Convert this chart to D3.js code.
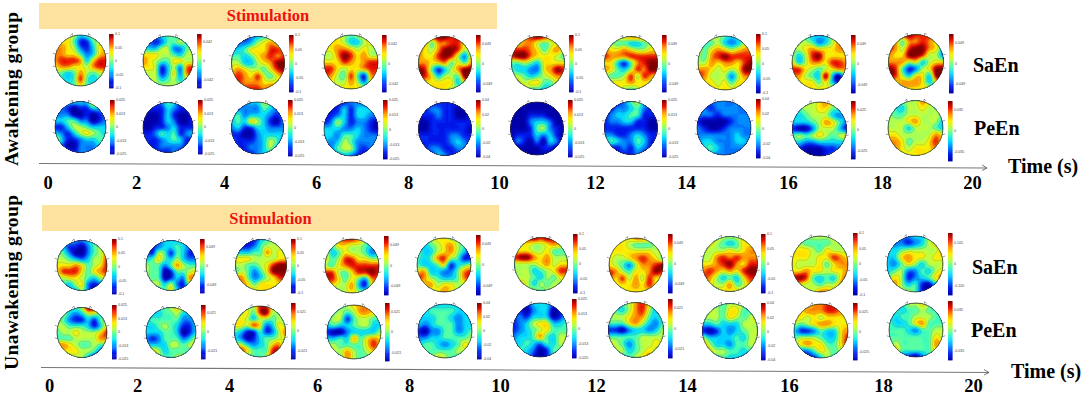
<!DOCTYPE html>
<html>
<head>
<meta charset="utf-8">
<script src="https://cdn.jsdelivr.net/npm/d3@7"></script>
<style>
	html, body { margin: 0; padding: 0; background: #fff; }
	svg { display: block; }
	text { font-family: "Liberation Serif", serif; font-weight: bold; fill: #000; }
	.cb text { font-family: "Liberation Sans", sans-serif; font-weight: normal; fill: #444; }
</style>
</head>
<body>
<svg width="1084" height="396"></svg>
<script>
// topographic maps: 9x9 grid, 0 = deep blue ... 9 = dark red
var awakeSaEn = [
	[[6,6,6,5,3,4,5,5,5],[6,6,6,4,1,1,4,5,5],[7,7,6,5,2,1,3,6,6],[7,7,6,6,4,2,3,6,7],[7,8,8,8,7,3,6,8,8],[6,7,7,6,6,5,7,8,8],[5,4,3,4,7,5,4,5,6],[5,4,3,4,8,4,3,4,5],[5,5,4,4,6,4,4,4,5]],
	[[4,3,2,3,4,4,4,4,4],[3,2,1,2,4,4,5,4,4],[4,3,3,5,5,2,2,4,5],[6,6,6,5,5,4,3,5,5],[7,6,5,4,4,6,6,5,5],[6,6,5,1,3,5,2,7,8],[5,5,5,1,3,6,2,7,8],[5,5,5,3,4,5,3,5,6],[5,5,5,5,5,5,5,5,5]],
	[[2,2,1,2,3,4,5,5,5],[2,2,2,3,5,6,7,6,5],[3,3,4,6,6,6,8,8,7],[4,4,3,4,6,7,8,7,8],[5,5,3,3,5,6,7,9,9],[6,7,6,5,5,4,6,8,9],[7,8,7,6,8,5,4,6,7],[8,8,7,7,7,6,6,6,6],[8,8,8,8,8,7,8,8,7]],
	[[7,7,6,5,4,5,6,7,7],[6,6,6,5,3,3,5,6,6],[6,6,7,7,6,5,6,5,5],[5,5,7,9,8,6,7,5,5],[6,6,6,8,7,6,7,8,8],[8,8,6,5,6,6,7,8,8],[8,7,5,4,8,4,1,7,7],[6,6,5,5,7,5,2,6,7],[6,6,6,6,6,6,6,7,7]],
	[[8,8,8,9,9,8,8,7,7],[7,7,4,7,7,8,8,6,6],[7,6,5,7,9,9,8,5,6],[7,6,6,8,9,8,5,2,6],[7,7,6,6,7,4,6,4,7],[9,8,4,1,3,5,7,9,9],[9,8,6,3,5,5,4,9,9],[7,6,6,6,6,6,3,6,7],[6,6,6,6,6,5,5,6,6]],
	[[7,7,7,8,9,8,7,7,7],[7,6,7,7,5,4,5,6,6],[8,8,8,7,6,4,6,7,5],[8,9,9,7,6,6,6,5,4],[4,4,5,4,3,6,6,6,6],[4,3,3,2,2,6,7,9,8],[5,5,4,3,4,5,6,7,7],[6,6,5,6,6,4,4,6,6],[6,6,6,4,4,3,4,6,6]],
	[[6,6,6,6,7,7,7,6,6],[7,5,4,4,3,3,4,5,6],[7,6,6,7,6,5,5,6,6],[8,7,7,7,8,8,8,8,8],[6,6,3,1,4,7,8,9,9],[7,6,4,3,5,8,7,9,9],[5,4,4,5,8,5,8,7,6],[6,6,6,6,7,6,6,6,6],[7,6,6,5,4,5,7,7,7]],
	[[6,6,6,5,4,3,4,5,6],[6,4,4,5,3,2,3,5,6],[6,4,6,7,6,5,6,7,7],[5,4,7,8,9,8,8,8,8],[5,5,7,6,7,7,6,8,9],[7,7,6,5,6,5,6,9,9],[8,7,5,5,5,2,5,7,7],[6,6,6,5,6,4,6,6,6],[6,6,6,6,6,6,6,6,6]],
	[[5,5,4,3,3,3,5,6,6],[5,5,5,4,2,3,5,7,7],[5,5,6,7,6,6,6,7,7],[5,3,5,8,9,6,6,6,6],[6,3,5,7,7,6,8,8,7],[8,8,6,5,4,5,6,7,7],[7,7,5,4,3,9,3,0,5],[6,6,6,6,4,6,3,1,5],[6,6,6,6,6,6,6,6,6]],
	[[8,8,8,9,8,8,8,7,7],[7,7,4,7,7,8,7,6,6],[8,7,5,8,9,9,7,6,3],[7,6,6,9,9,8,5,5,2],[7,7,7,5,6,3,5,6,6],[9,8,4,1,2,5,6,9,9],[9,8,5,3,6,6,3,9,9],[7,6,7,7,7,6,3,6,7],[6,6,6,6,6,6,6,6,6]]
];
var awakePeEn = [
	[[3,3,3,3,3,3,7,6,4],[2,2,1,0,1,1,3,3,2],[2,2,2,0,0,1,0,1,2],[3,3,4,4,2,2,0,1,2],[1,1,3,5,5,4,3,3,3],[3,2,1,3,5,6,5,4,3],[6,3,1,1,2,3,3,4,4],[3,2,0,0,2,2,2,3,3],[2,2,2,1,2,2,2,2,2]],
	[[1,1,1,2,4,3,1,1,1],[1,1,1,1,3,2,1,1,1],[1,0,0,1,3,1,0,0,1],[0,0,0,1,3,2,0,0,1],[0,0,1,1,2,3,1,1,1],[1,1,2,4,3,4,1,2,3],[1,1,1,2,3,4,3,1,1],[1,1,1,2,2,2,2,1,1],[1,1,1,1,1,2,1,1,1]],
	[[2,2,2,3,3,5,4,2,2],[1,2,2,2,2,4,3,2,2],[3,4,2,3,3,3,2,1,2],[3,4,3,6,5,3,1,0,2],[2,3,1,1,3,3,2,2,2],[1,1,0,0,2,3,3,3,3],[2,1,1,1,2,3,5,4,2],[1,1,1,2,2,3,5,3,2],[1,1,1,1,2,3,3,2,1]],
	[[1,1,1,1,2,2,2,2,2],[1,1,1,3,1,3,3,3,2],[1,1,2,3,1,3,3,2,2],[1,2,5,3,1,2,2,1,0],[3,3,3,2,2,3,2,1,0],[3,3,2,4,4,3,2,2,2],[3,2,3,5,4,2,2,2,2],[2,2,4,5,5,2,1,2,2],[1,2,2,3,2,1,1,1,1]],
	[[1,1,1,1,1,1,1,1,1],[1,1,2,2,1,1,0,0,1],[1,1,1,2,1,1,0,0,1],[0,0,1,1,1,1,1,1,1],[0,0,1,1,1,1,1,1,0],[1,1,1,1,1,2,2,1,1],[1,1,1,1,1,2,3,2,1],[1,1,2,2,1,1,2,2,1],[1,1,1,3,2,1,1,1,1]],
	[[0,0,0,0,0,0,0,0,0],[0,0,0,0,0,0,0,0,0],[0,0,0,1,1,1,0,0,0],[0,0,0,2,3,3,2,0,0],[0,0,0,1,4,5,2,1,0],[0,1,1,1,3,2,3,1,0],[0,2,1,0,2,0,3,2,0],[0,0,0,0,0,1,1,0,0],[0,0,0,0,0,0,0,0,0]],
	[[1,1,1,2,4,5,3,1,1],[1,1,2,2,3,4,2,1,1],[1,2,3,3,4,4,1,1,1],[1,2,2,3,3,1,1,0,0],[1,1,1,1,1,1,1,0,0],[2,2,1,1,2,3,2,1,1],[3,4,3,2,2,4,3,1,1],[1,1,1,2,1,3,2,1,1],[1,1,1,1,1,2,1,1,1]],
	[[2,1,2,2,2,2,2,2,2],[1,2,1,2,2,2,2,2,2],[2,2,2,1,2,2,2,2,2],[1,0,0,0,0,1,2,2,2],[2,1,0,0,1,2,2,2,2],[2,2,2,2,2,2,3,2,2],[2,3,3,2,2,2,3,3,2],[2,3,4,3,2,2,2,2,2],[2,2,3,2,2,2,2,2,2]],
	[[4,4,5,5,6,7,6,5,5],[3,4,5,5,6,6,4,4,4],[3,3,4,5,5,5,3,2,3],[3,3,3,4,5,7,6,4,2],[1,0,0,2,5,5,5,3,1],[4,5,4,5,6,5,4,5,6],[3,3,2,2,3,3,3,3,3],[1,1,0,0,0,1,1,2,3],[1,1,0,0,0,1,2,2,2]],
	[[5,5,5,5,5,7,6,5,5],[5,4,3,5,5,6,5,5,5],[5,4,4,5,5,5,5,5,5],[5,5,5,6,7,5,5,5,3],[5,5,5,3,5,5,5,4,3],[6,6,5,5,5,5,5,7,6],[7,7,6,4,5,5,6,8,6],[7,7,6,5,6,6,6,7,5],[6,6,6,6,6,6,6,6,6]]
];
var unawakeSaEn = [
	[[3,3,3,2,2,3,4,4,4],[4,3,1,1,0,2,4,5,6],[5,4,2,0,0,2,4,5,7],[5,5,4,3,2,3,5,5,8],[6,6,6,7,6,4,5,6,8],[6,8,8,8,6,4,6,7,8],[5,5,6,6,5,4,3,5,6],[4,4,3,5,6,2,1,2,4],[3,3,3,3,5,2,0,1,3]],
	[[3,2,2,3,3,3,3,2,2],[1,1,2,3,3,4,3,2,1],[2,1,5,4,1,4,3,1,1],[3,4,6,4,3,5,3,2,2],[5,4,4,2,4,7,5,4,4],[5,4,4,0,1,4,4,5,6],[5,4,4,0,1,3,2,7,7],[5,5,5,3,5,2,1,5,5],[4,4,4,4,6,3,1,3,4]],
	[[2,1,1,1,3,4,5,5,5],[2,1,1,2,4,5,5,5,5],[3,3,3,4,4,7,5,6,5],[6,6,6,5,5,5,5,6,6],[5,5,4,4,5,6,8,9,9],[4,5,4,2,4,6,9,9,9],[7,7,4,2,3,5,6,8,8],[6,7,6,4,6,6,6,6,6],[6,6,6,6,6,6,6,6,6]],
	[[5,5,7,8,8,7,5,5,5],[5,4,6,6,5,5,4,3,3],[6,3,4,6,5,5,4,2,3],[6,4,5,8,8,6,6,5,5],[5,4,6,7,8,8,8,8,8],[8,8,5,4,6,8,8,9,8],[8,8,6,4,6,4,2,7,7],[6,6,5,5,7,3,1,6,6],[6,6,5,5,6,5,5,6,6]],
	[[5,5,5,6,6,5,5,5,5],[5,3,4,5,6,7,5,4,4],[5,3,3,5,6,7,5,3,1],[4,3,4,7,8,5,4,1,1],[4,3,3,4,6,1,3,4,5],[6,7,3,3,2,2,4,7,8],[8,7,5,4,3,3,4,7,8],[5,6,7,5,6,6,5,5,6],[5,5,5,6,7,6,5,5,5]],
	[[7,7,8,9,8,9,8,7,7],[6,6,6,5,5,6,7,6,5],[6,6,6,5,5,6,4,4,4],[8,9,9,7,6,7,5,5,5],[5,5,5,5,6,7,5,6,6],[5,5,5,3,4,5,6,8,8],[5,5,5,4,3,5,4,6,6],[5,6,5,3,5,4,5,5,6],[5,5,5,5,4,5,5,5,5]],
	[[6,6,6,6,7,7,6,6,6],[6,6,6,5,4,4,4,5,6],[6,6,6,6,6,6,6,5,6],[6,5,5,6,7,8,7,6,4],[6,5,4,2,5,7,7,8,9],[8,7,5,4,6,6,7,9,8],[8,6,8,5,7,5,8,6,6],[6,6,6,6,7,6,8,6,6],[6,6,6,6,6,6,6,6,6]],
	[[6,6,6,5,5,5,6,6,6],[6,6,5,4,3,4,6,6,7],[6,5,5,5,6,5,6,7,7],[5,5,7,8,7,8,7,7,7],[6,6,7,8,9,7,6,8,8],[7,8,7,6,7,6,8,9,9],[8,7,5,3,4,3,6,8,8],[6,6,5,5,7,4,5,7,7],[5,5,6,6,6,6,6,7,7]],
	[[5,5,5,5,5,5,5,5,5],[5,5,4,4,4,4,5,5,5],[6,6,6,5,4,6,5,5,5],[6,6,6,5,6,6,8,7,6],[6,5,5,5,6,4,6,7,7],[6,6,7,6,6,5,6,6,7],[8,9,8,4,3,4,3,6,8],[6,6,5,5,4,5,5,7,8],[6,6,6,5,7,7,6,6,6]],
	[[3,2,2,2,3,3,5,5,5],[3,2,2,1,2,3,5,6,6],[4,3,4,5,5,5,5,5,7],[3,3,6,7,6,6,5,6,6],[3,2,4,6,5,3,5,5,5],[3,4,5,2,2,4,3,5,6],[4,6,5,1,2,3,4,6,7],[5,7,5,3,4,1,0,3,5],[5,5,5,5,4,1,0,2,4]]
];
var unawakePeEn = [
	[[5,5,4,4,5,9,8,5,5],[5,5,3,2,3,5,5,4,4],[5,4,2,1,1,3,1,4,5],[5,5,4,4,4,3,1,3,6],[4,5,5,6,5,5,5,6,8],[4,4,4,5,5,5,5,7,7],[7,7,6,5,4,4,5,4,4],[6,6,6,6,5,5,4,2,2],[5,5,5,5,5,3,1,0,1]],
	[[4,4,4,4,5,6,5,4,4],[3,3,3,4,4,5,3,3,4],[3,4,4,4,4,4,2,2,3],[3,3,4,5,4,3,1,1,3],[3,3,3,4,4,3,0,1,3],[2,1,2,4,4,4,2,3,5],[3,3,3,3,5,5,4,5,6],[5,6,5,3,4,4,4,4,5],[6,6,5,4,4,5,5,5,5]],
	[[3,4,5,5,8,8,6,5,5],[3,5,6,4,8,9,5,5,5],[5,6,5,3,5,5,4,5,4],[6,6,5,8,6,2,3,6,5],[4,3,1,1,4,1,2,5,7],[3,2,0,1,3,4,4,5,6],[5,5,3,2,3,4,6,7,4],[7,8,6,4,4,4,8,8,4],[5,6,5,4,4,5,8,7,4]],
	[[2,3,4,5,6,7,7,6,6],[3,4,5,4,5,7,7,6,5],[4,5,5,1,4,5,5,4,4],[3,4,3,3,4,5,5,3,3],[1,0,0,2,3,3,3,3,5],[3,3,4,3,7,4,6,7,6],[5,5,4,4,4,4,6,8,6],[5,5,5,7,5,4,5,6,5],[5,5,4,7,5,4,4,4,4]],
	[[3,3,3,3,3,3,3,3,3],[3,3,4,4,4,4,3,3,3],[3,3,3,4,4,3,2,3,3],[3,2,3,4,4,4,2,3,3],[1,0,2,2,4,4,2,3,4],[2,2,3,3,4,4,4,4,5],[3,4,4,3,2,3,4,6,5],[4,4,4,4,4,4,5,5,5],[4,4,4,6,5,4,4,4,4]],
	[[1,1,1,3,3,3,2,1,1],[0,1,0,2,3,3,0,1,2],[1,2,1,3,3,3,0,1,3],[1,2,3,5,6,6,3,3,4],[1,2,3,4,5,6,4,4,4],[2,3,3,4,7,4,3,5,5],[3,3,4,3,2,4,3,5,5],[3,4,3,2,0,1,4,4,4],[3,3,3,1,0,1,3,3,3]],
	[[4,4,5,5,7,8,6,5,5],[5,4,3,5,7,8,5,3,5],[5,5,5,6,7,7,4,3,5],[4,4,4,6,7,5,3,2,4],[1,1,0,2,3,3,2,3,5],[4,4,4,4,4,5,5,5,5],[6,5,4,2,4,5,5,6,5],[5,5,5,3,4,5,6,5,4],[4,4,4,4,5,6,7,4,4]],
	[[5,5,5,4,5,5,5,4,4],[5,5,5,4,6,6,4,4,5],[5,5,5,4,6,5,4,5,6],[3,3,4,3,3,3,5,5,5],[1,0,1,3,2,3,4,5,5],[5,3,3,3,3,4,3,5,5],[7,5,3,3,2,4,4,5,5],[6,6,5,5,4,4,3,4,4],[5,5,4,4,3,3,3,3,3]],
	[[5,5,6,7,7,8,8,7,6],[6,6,7,7,7,8,8,7,7],[6,6,5,6,5,6,6,6,6],[5,4,5,6,7,7,6,6,6],[3,1,1,2,4,3,3,6,7],[4,5,5,5,4,3,3,6,8],[5,6,7,6,6,4,4,6,8],[4,2,2,4,6,5,4,5,5],[3,2,1,1,3,5,4,4,4]],
	[[4,4,4,5,5,6,5,4,4],[4,4,3,4,4,5,4,4,4],[4,3,4,4,5,5,5,4,4],[4,3,3,4,6,7,4,4,4],[4,4,4,3,2,4,4,5,5],[4,4,4,4,4,4,4,6,5],[4,5,4,4,4,4,4,7,6],[5,6,4,4,4,4,4,6,5],[4,4,2,1,0,2,4,4,4]]
];

// colour bar limits and tick labels of each map
var awakeSaEnMax = [0.1,0.06,0.1,0.06,0.07,0.1,0.07,0.1,0.07,0.07];
var awakePeEnMax = [0.025,0.025,0.025,0.025,0.04,0.025,0.025,0.04,0.035,0.05];
var unawakeSaEnMax = [0.1,0.07,0.1,0.07,0.07,0.1,0.07,0.1,0.1,0.15];
var unawakePeEnMax = [0.025,0.03,0.03,0.03,0.04,0.025,0.03,0.04,0.035,0.05];
var ticksFive = [1, 0.5, 0, -0.5, -1];
var ticksThree = [0.7, 0, -0.7];

var timeTicks = [0,2,4,6,8,10,12,14,16,18,20];

// layout of the panels
var panels = [
	{ maps: awakeSaEn, max: awakeSaEnMax,
		cx: [80.5,168,258,351,445,538,631,725,819,916], cy: [60.5,61,63,62,63,63,63,63,62.5,62],
		r: [25.5,25,26.5,27,26.5,26.5,26.5,27,27,27.5],
		barX: [109,197,289,382,476,569,662,756,851,949], barTop: [34,34,35,35,35,35,35,34,35,34], barBottom: [88,88,92,92,92,92,92,93,93,93] },
	{ maps: awakePeEn, max: awakePeEnMax,
		cx: [80.5,168,257.5,351,445,537,631,724,819.5,915.5], cy: [127,127.5,128,129,129,128.5,128,128,129,128],
		r: [25.5,25,26,27,26.5,26.5,26.5,27,27,27.5],
		barX: [110,198,288,383,476,568,662,756,851,948], barTop: [100,100,100,100,100,100,100,99,101,101], barBottom: [154,154,156,159,157,157,157,158,159,161] },
	{ maps: unawakeSaEn, max: unawakeSaEnMax,
		cx: [82,171,261,352,444,541,636,730,820,915], cy: [265.5,265.5,265,266,265,264,265,264,264,264],
		r: [25,25,25.5,27,27,26.5,27,27.5,28,28],
		barX: [112,200,291,384,476,573,668,761,853,948], barTop: [239,239,239,236,235,234,234,234,233,233], barBottom: [294,293,293,295,295,293,293,293,295,295] },
	{ maps: unawakePeEn, max: unawakePeEnMax,
		cx: [82,171,260,354,445,540,636,730,821,916], cy: [332.5,332.5,331.5,332,331,330,330,331,331,330],
		r: [25,25,25.5,27,27,27,27.5,27.5,27,27],
		barX: [112,201,291,385,477,572,668,761,853,948], barTop: [305,305,303,303,303,299,299,303,303,301], barBottom: [359,359,359,361,359,358,358,360,360,360] }
];
var group = [
	{ band: [39,497,3,29], stimX: 268, stimY: 21, name: "Awakening group", nameX: 17.5, nameTop: 12, nameBottom: 166,
		tickX: [47.5,136,224,316,408,499,595,686,788,882,972], tickY: 189, axis: [39,163.5,987,168], timeX: 1008, timeY: 173 },
	{ band: [42,499,205,231], stimX: 270.5, stimY: 224, name: "Unawakening group", nameX: 17.5, nameTop: 195, nameBottom: 370,
		tickX: [49,137,229,317,409,500,596,687,789,883,973], tickY: 392, axis: [41,367.5,989,372.5], timeX: 1011, timeY: 378 }
];
var sideLabels = [
	{ text: "SaEn", x: 973, y: 72 }, { text: "PeEn", x: 974, y: 135 },
	{ text: "SaEn", x: 972, y: 274 }, { text: "PeEn", x: 971, y: 337 }
];

var svg = d3.select("svg");
var defs = svg.append("defs");

var jet = d3.scaleLinear()
	.domain([0,1,2,3,4,5,6,7,8,9])
	.range(["#0000a8","#0018f0","#0080ff","#00dcff","#48ffb0","#b8ff48","#ffee00","#ff9000","#f01000","#800000"])
	.clamp(true);

var size = 64;
var levels = d3.range(-4, 13, 0.25);
var lineLevels = d3.range(0.5, 9, 1);

// catmull-rom through the readings so the peaks survive
function cubic(a, b, c, d, t) {
	return b + 0.5 * t * (c - a + t * (2 * a - 5 * b + 4 * c - d + t * (3 * (b - c) + d - a)));
}

function field(grid) {
	var n = grid.length - 1, vals = new Float64Array(size * size);
	function at(y, x) {
		return grid[Math.max(0, Math.min(n, y))][Math.max(0, Math.min(n, x))];
	}
	for (var j = 0; j < size; j++) {
		for (var i = 0; i < size; i++) {
			var gx = i / (size - 1) * n, gy = j / (size - 1) * n;
			var x0 = Math.floor(gx), y0 = Math.floor(gy);
			var fx = gx - x0, fy = gy - y0;
			var rows = [-1, 0, 1, 2].map(function (dy) {
				return cubic(at(y0 + dy, x0 - 1), at(y0 + dy, x0), at(y0 + dy, x0 + 1), at(y0 + dy, x0 + 2), fx);
			});
			vals[j * size + i] = cubic(rows[0], rows[1], rows[2], rows[3], fy);
		}
	}
	d3.blur2({ data: vals, width: size, height: size }, 1);
	return Array.from(vals);
}

panels.forEach(function (p, pi) {
	p.maps.forEach(function (grid, mi) {
		var cx = p.cx[mi], cy = p.cy[mi], r = p.r[mi];
		var g = svg.append("g");
		var id = "clip" + pi + "_" + mi;
		defs.append("clipPath").attr("id", id).append("circle").attr("cx", cx).attr("cy", cy).attr("r", r);

		var vals = field(grid);
		var path = d3.geoPath(d3.geoIdentity().scale(2 * r / size).translate([cx - r, cy - r]));

		// head outline bits first: nose and ears
		[-1, 1].forEach(function (s) {
			g.append("path")
				.attr("d", "M" + (cx + s * r * 0.3) + "," + (cy - r * 0.96) + "l" + (s * 0.5) + ",-2.5l" + (s * 2) + ",2")
				.attr("fill", "none").attr("stroke", "#444").attr("stroke-width", 0.5);
			[-0.25, 0.25].forEach(function (t) {
				g.append("path")
					.attr("d", "M" + (cx + s * r * 0.97) + "," + (cy + t * r) + "l" + (s * 3) + ",-1")
					.attr("fill", "none").attr("stroke", "#444").attr("stroke-width", 0.5);
			});
		});

		var body = g.append("g").attr("clip-path", "url(#" + id + ")");
		body.selectAll("path.fill")
			.data(d3.contours().size([size, size]).thresholds(levels)(vals))
			.enter().append("path")
			.attr("class", "fill")
			.attr("d", path)
			.attr("fill", function (d) { return jet(d.value + 0.125); });
		body.selectAll("path.iso")
			.data(d3.contours().size([size, size]).thresholds(lineLevels)(vals))
			.enter().append("path")
			.attr("class", "iso")
			.attr("d", path)
			.attr("fill", "none")
			.attr("stroke", "#333")
			.attr("stroke-opacity", 0.4)
			.attr("stroke-width", 0.35);

		g.append("circle")
			.attr("cx", cx).attr("cy", cy).attr("r", r)
			.attr("fill", "none").attr("stroke", "#333").attr("stroke-width", 0.7);

		// colour bar
		var bx = p.barX[mi], top = p.barTop[mi], bottom = p.barBottom[mi], max = p.max[mi];
		var by = d3.scaleLinear().domain([max, -max]).range([top, bottom]);
		var cb = svg.append("g").attr("class", "cb");
		var steps = d3.range(0, 60);
		cb.selectAll("rect")
			.data(steps)
			.enter().append("rect")
			.attr("x", bx).attr("width", 4.5)
			.attr("y", function (d) { return top + (bottom - top) * d / 60; })
			.attr("height", (bottom - top) / 60 + 0.4)
			.attr("fill", function (d) { return jet(9 - 9 * (d + 0.5) / 60); });
		var tickList = (max === 0.1 || max === 0.025 || max === 0.04) ? ticksFive : ticksThree;
		cb.selectAll("text")
			.data(tickList)
			.enter().append("text")
			.attr("x", bx + 6)
			.attr("y", function (d) { return by(d * max) + 1.3; })
			.attr("font-size", 3.6)
			.text(function (d) { return +(d * max).toFixed(3); });
	});
});

group.forEach(function (gr) {
	var b = gr.band;
	svg.insert("rect", "g")
		.attr("x", b[0]).attr("y", b[2]).attr("width", b[1] - b[0]).attr("height", b[3] - b[2])
		.attr("fill", "#fde39f");
	svg.append("text")
		.attr("x", gr.stimX).attr("y", gr.stimY)
		.attr("text-anchor", "middle").attr("font-size", 16.5)
		.style("fill", "#ee1111")
		.text("Stimulation");

	var a = gr.axis;
	svg.append("line")
		.attr("x1", a[0]).attr("y1", a[1]).attr("x2", a[2]).attr("y2", a[3])
		.attr("stroke", "#777").attr("stroke-width", 1.1);
	svg.append("path")
		.attr("d", "M" + (a[2] - 5) + "," + (a[3] - 3) + "L" + a[2] + "," + a[3] + "L" + (a[2] - 5) + "," + (a[3] + 2.5))
		.attr("fill", "none").attr("stroke", "#555").attr("stroke-width", 0.8);

	// time axis: the tick labels are not evenly spaced in the figure
	var x = d3.scaleLinear().domain(timeTicks).range(gr.tickX);
	var axis = svg.append("g")
		.attr("transform", "translate(0," + gr.tickY + ")")
		.call(d3.axisBottom(x).tickValues(timeTicks).tickSize(0).tickFormat(d3.format("d")));
	axis.select(".domain").remove();
	axis.selectAll("text")
		.attr("y", 0).attr("dy", 0)
		.attr("font-size", 18.5)
		.style("font-family", '"Liberation Serif", serif')
		.style("font-weight", "bold")
		.style("fill", "#000");

	svg.append("text")
		.attr("transform", "translate(" + gr.nameX + "," + gr.nameBottom + ") rotate(-90)")
		.attr("font-size", 19.5)
		.attr("textLength", gr.nameBottom - gr.nameTop)
		.text(gr.name);

	svg.append("text")
		.attr("x", gr.timeX).attr("y", gr.timeY)
		.attr("font-size", 20)
		.text("Time (s)");
});

svg.selectAll("text.side")
	.data(sideLabels)
	.enter().append("text")
	.attr("class", "side")
	.attr("x", function (d) { return d.x; })
	.attr("y", function (d) { return d.y; })
	.attr("font-size", 20)
	.text(function (d) { return d.text; });
</script>
</body>
</html>
